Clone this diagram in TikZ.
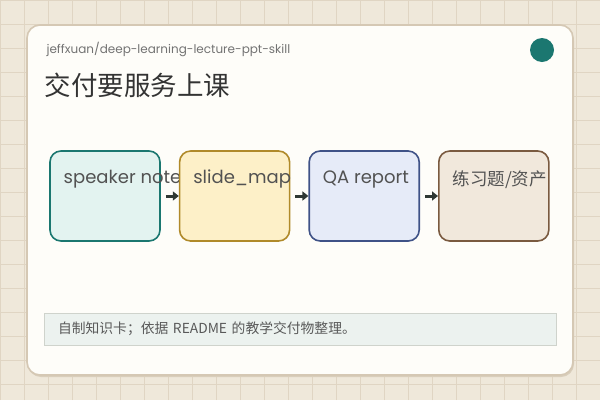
\documentclass[tikz,border=0pt]{standalone}
\usepackage{fontspec}
\setmainfont{Poppins}
\newfontfamily\cjk{Noto Sans CJK SC}
\usetikzlibrary{positioning,arrows.meta}

\definecolor{paper}{HTML}{EFE8DA}
\definecolor{gridc}{HTML}{E0D5C3}
\definecolor{cardc}{HTML}{FEFDF9}
\definecolor{cardb}{HTML}{D5C8B4}
\definecolor{tealc}{HTML}{1B7770}
\definecolor{inkc}{HTML}{333333}
\definecolor{arrowc}{HTML}{2F3834}
\definecolor{notesfill}{HTML}{E3F3F0}
\definecolor{mapdraw}{HTML}{B08A2A}
\definecolor{mapfill}{HTML}{FDF0C8}
\definecolor{qadraw}{HTML}{3F5287}
\definecolor{qafill}{HTML}{E6EBF8}
\definecolor{assetdraw}{HTML}{7A5A40}
\definecolor{assetfill}{HTML}{F1E8DC}
\definecolor{footdraw}{HTML}{CFD3CC}
\definecolor{footfill}{HTML}{ECF2EF}

\begin{document}
\begin{tikzpicture}
  [x=1pt,y=-1pt,
  stepbox/.style={draw, line width=1.6pt, rounded corners=11pt,
    minimum width=110pt, minimum height=90pt, inner sep=0pt},
  boxtext/.style={anchor=west, xshift=11pt, yshift=-29pt,
    text=inkc!85, font=\fontsize{18}{21}\selectfont},
  flow/.style={draw=arrowc, line width=3pt, -{Triangle[length=6pt,width=9pt]}}]
  \useasboundingbox (0,0) rectangle (600,400);
  % background and card
  \fill[paper] (0,0) rectangle (600,400);
  \draw[gridc, line width=0.8pt] (0,0) grid[step=24pt] (600,400);
  \fill[cardb!90] (28,28) [rounded corners=13pt] rectangle (574,377);
  \draw[cardb, fill=cardc, line width=1.6pt, rounded corners=13pt] (27,25) rectangle (573,375);
  \fill[tealc] (542,50) circle (12pt);
  \node (repo) [anchor=west, text=black!55, font=\fontsize{12}{14}\selectfont] at (43,49)
    {jeffxuan/deep-learning-lecture-ppt-skill};
  \node (title) [anchor=west, text=inkc, font=\cjk\fontsize{26.5}{30}\selectfont] at (41,85)
    {交付要服务上课};
  % flow
  \node (notes) [stepbox, draw=tealc, fill=notesfill,
    label={[boxtext]north west:speaker note}] at (105,196) {};
  \node (smap) [stepbox, right=18pt of notes, draw=mapdraw, fill=mapfill,
    label={[boxtext]north west:slide\_map}] {};
  \node (qa) [stepbox, right=18pt of smap, draw=qadraw, fill=qafill,
    label={[boxtext]north west:QA report}] {};
  \node (assets) [stepbox, right=18pt of qa, draw=assetdraw, fill=assetfill,
    label={[boxtext, font=\cjk\fontsize{17.5}{21}\selectfont]north west:练习题/资产}] {};
  \draw[flow] ([xshift=5pt]notes.east) -- (smap.west);
  \draw[flow] ([xshift=5pt]smap.east) -- (qa.west);
  \draw[flow] ([xshift=5pt]qa.east) -- (assets.west);
  % footer note
  \node (note) [draw=footdraw, fill=footfill,
    minimum height=32pt, text width=484pt, inner xsep=14pt, align=left,
    text=black!65, font=\cjk\fontsize{13.8}{16}\selectfont] at (300,329)
    {自制知识卡；依据 README 的教学交付物整理。};
\end{tikzpicture}
\end{document}
